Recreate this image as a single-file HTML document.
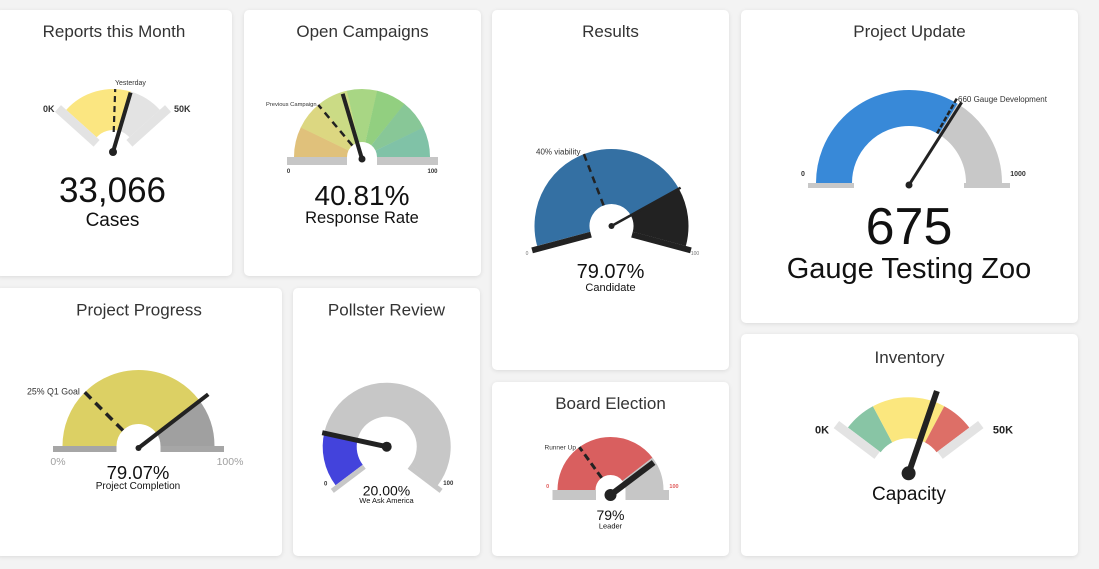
<!DOCTYPE html>
<html><head><meta charset="utf-8">
<style>
html,body{margin:0;padding:0;}
body{width:1099px;height:569px;background:#f3f3f3;position:relative;overflow:hidden;font-family:"Liberation Sans",Arial,sans-serif;}
.card{position:absolute;background:#fff;border-radius:5px;box-shadow:0 1px 4px rgba(0,0,0,0.10);}
svg{position:absolute;left:0;top:0;}
</style></head><body>
<div class="card" style="left:-4px;top:10px;width:236px;height:266px"></div>
<div class="card" style="left:244px;top:10px;width:237px;height:266px"></div>
<div class="card" style="left:492px;top:10px;width:237px;height:360px"></div>
<div class="card" style="left:741px;top:10px;width:337px;height:313px"></div>
<div class="card" style="left:-4px;top:288px;width:286px;height:268px"></div>
<div class="card" style="left:293px;top:288px;width:187px;height:268px"></div>
<div class="card" style="left:492px;top:382px;width:237px;height:174px"></div>
<div class="card" style="left:741px;top:334px;width:337px;height:222px"></div>

<svg width="1099" height="569" viewBox="0 0 1099 569" font-family="Liberation Sans, Arial, sans-serif">
<!-- Titles -->
<g font-size="17" fill="#333" text-anchor="middle">
<text x="114" y="37">Reports this Month</text>
<text x="362.5" y="37">Open Campaigns</text>
<text x="610.5" y="37">Results</text>
<text x="909.5" y="37">Project Update</text>
<text x="139" y="315.5">Project Progress</text>
<text x="386.5" y="315.5">Pollster Review</text>
<text x="610.5" y="409">Board Election</text>
<text x="909.5" y="363">Inventory</text>
</g>

<!-- Gauge 1: Reports this Month -->
<g>
<circle cx="113" cy="152" r="42.5" fill="none" stroke="#fbe681" stroke-width="41" stroke-dasharray="47.84 1000" transform="rotate(-138 113 152)"/>
<circle cx="113" cy="152" r="42.5" fill="none" stroke="#e3e3e3" stroke-width="41" stroke-dasharray="23.37 1000" transform="rotate(-73.5 113 152)"/>
<rect x="104" y="82" width="9" height="52" fill="#e3e3e3" transform="rotate(-48 113 152)"/>
<rect x="113" y="82" width="9" height="52" fill="#e3e3e3" transform="rotate(48 113 152)"/>
<line x1="113" y1="132" x2="113" y2="89" stroke="#222" stroke-width="2.2" stroke-dasharray="6 4" transform="rotate(2 113 152)"/>
<line x1="113" y1="152" x2="113" y2="90" stroke="#222" stroke-width="4" transform="rotate(16.5 113 152)"/>
<circle cx="113" cy="152" r="4" fill="#222"/>
<text x="115" y="85" font-size="7" fill="#333">Yesterday</text>
<text x="43" y="112" font-size="9" font-weight="bold" fill="#333">0K</text>
<text x="174" y="112" font-size="9" font-weight="bold" fill="#333">50K</text>
<text x="112.5" y="202" font-size="35" fill="#111" text-anchor="middle">33,066</text>
<text x="112.5" y="226" font-size="19" fill="#111" text-anchor="middle">Cases</text>
</g>

<!-- Gauge 2: Open Campaigns -->
<g>
<circle cx="362" cy="157" r="41.5" fill="none" stroke="#e0c17b" stroke-width="53" stroke-dasharray="18.8 1000" transform="rotate(-180 362 157)"/>
<circle cx="362" cy="157" r="41.5" fill="none" stroke="#dcd781" stroke-width="53" stroke-dasharray="18.8 1000" transform="rotate(-154.29 362 157)"/>
<circle cx="362" cy="157" r="41.5" fill="none" stroke="#cbdb85" stroke-width="53" stroke-dasharray="18.8 1000" transform="rotate(-128.57 362 157)"/>
<circle cx="362" cy="157" r="41.5" fill="none" stroke="#a8d684" stroke-width="53" stroke-dasharray="18.8 1000" transform="rotate(-102.86 362 157)"/>
<circle cx="362" cy="157" r="41.5" fill="none" stroke="#92cf80" stroke-width="53" stroke-dasharray="18.8 1000" transform="rotate(-77.14 362 157)"/>
<circle cx="362" cy="157" r="41.5" fill="none" stroke="#88c797" stroke-width="53" stroke-dasharray="18.8 1000" transform="rotate(-51.43 362 157)"/>
<circle cx="362" cy="157" r="41.5" fill="none" stroke="#80c2a7" stroke-width="53" stroke-dasharray="18.62 1000" transform="rotate(-25.71 362 157)"/>
<rect x="287" y="157" width="60" height="8" fill="#c6c6c6"/>
<rect x="377" y="157" width="61" height="8" fill="#c6c6c6"/>
<line x1="362" y1="142" x2="362" y2="89" stroke="#222" stroke-width="2.5" stroke-dasharray="7 5" transform="rotate(-40 362 157)"/>
<line x1="362" y1="159" x2="362" y2="91" stroke="#222" stroke-width="4" transform="rotate(-16.5 362 159)"/>
<circle cx="362" cy="159" r="3.5" fill="#222"/>
<text x="266" y="106" font-size="5.8" fill="#333">Previous Campaign</text>
<text x="288.5" y="173" font-size="6" font-weight="bold" fill="#333" text-anchor="middle">0</text>
<text x="432.5" y="173" font-size="6" font-weight="bold" fill="#333" text-anchor="middle">100</text>
<text x="362" y="205" font-size="28" fill="#111" text-anchor="middle">40.81%</text>
<text x="362" y="223" font-size="16.5" fill="#111" text-anchor="middle">Response Rate</text>
</g>

<!-- Gauge 3: Results -->
<g>
<circle cx="611.5" cy="226" r="49.5" fill="none" stroke="#3470a3" stroke-width="55" stroke-dasharray="143.41 1000" transform="rotate(-195 611.5 226)"/>
<circle cx="611.5" cy="226" r="49.5" fill="none" stroke="#222" stroke-width="55" stroke-dasharray="38.01 1000" transform="rotate(-29 611.5 226)"/>
<rect x="605.5" y="143" width="6" height="61" fill="#222" transform="rotate(-105 611.5 226)"/>
<rect x="611.5" y="143" width="6" height="61" fill="#222" transform="rotate(105 611.5 226)"/>
<line x1="611.5" y1="204" x2="611.5" y2="149" stroke="#222" stroke-width="2.5" stroke-dasharray="7 5" transform="rotate(-21 611.5 226)"/>
<line x1="611.5" y1="226" x2="611.5" y2="147" stroke="#222" stroke-width="2.5" transform="rotate(61 611.5 226)"/>
<circle cx="611.5" cy="226" r="3" fill="#222"/>
<text x="536" y="154.5" font-size="8" fill="#333">40% viability</text>
<text x="527" y="255" font-size="5" fill="#777" text-anchor="middle">0</text>
<text x="695" y="255" font-size="5" fill="#777" text-anchor="middle">100</text>
<text x="610.5" y="278" font-size="20" fill="#111" text-anchor="middle">79.07%</text>
<text x="610.5" y="291" font-size="11" fill="#111" text-anchor="middle">Candidate</text>
</g>

<!-- Gauge 4: Project Update -->
<g>
<circle cx="909" cy="183" r="75" fill="none" stroke="#3889d8" stroke-width="36" stroke-dasharray="159.04 1000" transform="rotate(-180 909 183)"/>
<circle cx="909" cy="183" r="75" fill="none" stroke="#c8c8c8" stroke-width="36" stroke-dasharray="76.58 1000" transform="rotate(-58.5 909 183)"/>
<rect x="808" y="183" width="46" height="5" fill="#c8c8c8"/>
<rect x="964" y="183" width="46" height="5" fill="#c8c8c8"/>
<line x1="909" y1="126" x2="909" y2="86" stroke="#222" stroke-width="2.5" stroke-dasharray="5 2" transform="rotate(29.5 909 183)"/>
<line x1="909" y1="185" x2="909" y2="87" stroke="#222" stroke-width="3" transform="rotate(32.5 909 185)"/>
<circle cx="909" cy="185" r="3.5" fill="#222"/>
<text x="958" y="102" font-size="8" fill="#333">660 Gauge Development</text>
<text x="803" y="176" font-size="7" font-weight="bold" fill="#333" text-anchor="middle">0</text>
<text x="1018" y="176" font-size="7" font-weight="bold" fill="#333" text-anchor="middle">1000</text>
<text x="909" y="244" font-size="52" fill="#111" text-anchor="middle">675</text>
<text x="909" y="278" font-size="29" fill="#111" text-anchor="middle">Gauge Testing Zoo</text>
</g>

<!-- Gauge 5: Project Progress -->
<g>
<circle cx="138.5" cy="446" r="49" fill="none" stroke="#dcd064" stroke-width="54" stroke-dasharray="121.7 1000" transform="rotate(-180 138.5 446)"/>
<circle cx="138.5" cy="446" r="49" fill="none" stroke="#a0a0a0" stroke-width="54" stroke-dasharray="32.24 1000" transform="rotate(-37.7 138.5 446)"/>
<rect x="53" y="446" width="63.5" height="6" fill="#a6a6a6"/>
<rect x="160.5" y="446" width="63.5" height="6" fill="#a6a6a6"/>
<line x1="138.5" y1="424" x2="138.5" y2="370" stroke="#222" stroke-width="3.5" stroke-dasharray="9 6" transform="rotate(-45 138.5 446)"/>
<line x1="138.5" y1="448" x2="138.5" y2="360" stroke="#222" stroke-width="4" transform="rotate(52.4 138.5 448)"/>
<circle cx="138.5" cy="448" r="3" fill="#222"/>
<text x="27" y="394.5" font-size="8.8" fill="#333">25% Q1 Goal</text>
<text x="58" y="465" font-size="10.5" fill="#a0a0a0" text-anchor="middle">0%</text>
<text x="230" y="465" font-size="10.5" fill="#a0a0a0" text-anchor="middle">100%</text>
<text x="138" y="479" font-size="18.5" fill="#111" text-anchor="middle">79.07%</text>
<text x="138" y="489" font-size="10" fill="#111" text-anchor="middle">Project Completion</text>
</g>

<!-- Gauge 6: Pollster Review -->
<g>
<circle cx="386.7" cy="446.7" r="47" fill="none" stroke="#4343dc" stroke-width="34" stroke-dasharray="41.67 1000" transform="rotate(-217 386.7 446.7)"/>
<circle cx="386.7" cy="446.7" r="47" fill="none" stroke="#c7c7c7" stroke-width="34" stroke-dasharray="166.68 1000" transform="rotate(-166.2 386.7 446.7)"/>
<rect x="381.7" y="376.7" width="5" height="40" fill="#c7c7c7" transform="rotate(-127 386.7 446.7)"/>
<rect x="386.7" y="376.7" width="5" height="40" fill="#c7c7c7" transform="rotate(127 386.7 446.7)"/>
<line x1="386.7" y1="446.7" x2="386.7" y2="380.7" stroke="#222" stroke-width="5" transform="rotate(-77.7 386.7 446.7)"/>
<circle cx="386.7" cy="446.7" r="5" fill="#222"/>
<text x="325.7" y="485.5" font-size="6" font-weight="bold" fill="#333" text-anchor="middle">0</text>
<text x="448.3" y="485" font-size="6" font-weight="bold" fill="#333" text-anchor="middle">100</text>
<text x="386.5" y="495.5" font-size="14" fill="#111" text-anchor="middle">20.00%</text>
<text x="386.5" y="503" font-size="7.5" fill="#111" text-anchor="middle">We Ask America</text>
</g>

<!-- Gauge 7: Board Election -->
<g>
<circle cx="610.5" cy="490" r="34" fill="none" stroke="#d95f5f" stroke-width="38" stroke-dasharray="84.38 1000" transform="rotate(-180 610.5 490)"/>
<circle cx="610.5" cy="490" r="34" fill="none" stroke="#c6c6c6" stroke-width="38" stroke-dasharray="22.43 1000" transform="rotate(-37.8 610.5 490)"/>
<rect x="552.5" y="490" width="43.5" height="10" fill="#c6c6c6"/>
<rect x="625.5" y="490" width="43.5" height="10" fill="#c6c6c6"/>
<line x1="610.5" y1="475" x2="610.5" y2="437" stroke="#222" stroke-width="3" stroke-dasharray="7 4" transform="rotate(-36 610.5 490)"/>
<line x1="610.5" y1="495" x2="610.5" y2="441" stroke="#222" stroke-width="6" transform="rotate(53 610.5 495)"/>
<circle cx="610.5" cy="495" r="6" fill="#222"/>
<text x="544.5" y="449.5" font-size="6.5" fill="#333">Runner Up</text>
<text x="547.6" y="488" font-size="5.5" font-weight="bold" fill="#e05a5a" text-anchor="middle">0</text>
<text x="674" y="488" font-size="5.5" font-weight="bold" fill="#e05a5a" text-anchor="middle">100</text>
<text x="610.5" y="520" font-size="14" fill="#111" text-anchor="middle">79%</text>
<text x="610.5" y="528.5" font-size="7.5" fill="#111" text-anchor="middle">Leader</text>
</g>

<!-- Gauge 8: Inventory -->
<g>
<circle cx="908.6" cy="473.3" r="55.5" fill="none" stroke="#88c5a5" stroke-width="41" stroke-dasharray="24.22 1000" transform="rotate(-143 908.6 473.3)"/>
<circle cx="908.6" cy="473.3" r="55.5" fill="none" stroke="#fbe77e" stroke-width="41" stroke-dasharray="54.24 1000" transform="rotate(-118 908.6 473.3)"/>
<circle cx="908.6" cy="473.3" r="55.5" fill="none" stroke="#dd6f67" stroke-width="41" stroke-dasharray="24.22 1000" transform="rotate(-62 908.6 473.3)"/>
<rect x="899.6" y="386.3" width="9" height="51" fill="#e3e3e3" transform="rotate(-53 908.6 473.3)"/>
<rect x="908.6" y="386.3" width="9" height="51" fill="#e3e3e3" transform="rotate(53 908.6 473.3)"/>
<line x1="908.6" y1="473.3" x2="908.6" y2="386.3" stroke="#222" stroke-width="6" transform="rotate(19 908.6 473.3)"/>
<circle cx="908.6" cy="473.3" r="7" fill="#222"/>
<text x="822" y="433.5" font-size="11" font-weight="bold" fill="#222" text-anchor="middle">0K</text>
<text x="1003" y="433.5" font-size="11" font-weight="bold" fill="#222" text-anchor="middle">50K</text>
<text x="909" y="500" font-size="19" fill="#111" text-anchor="middle">Capacity</text>
</g>
</svg>
</body></html>
